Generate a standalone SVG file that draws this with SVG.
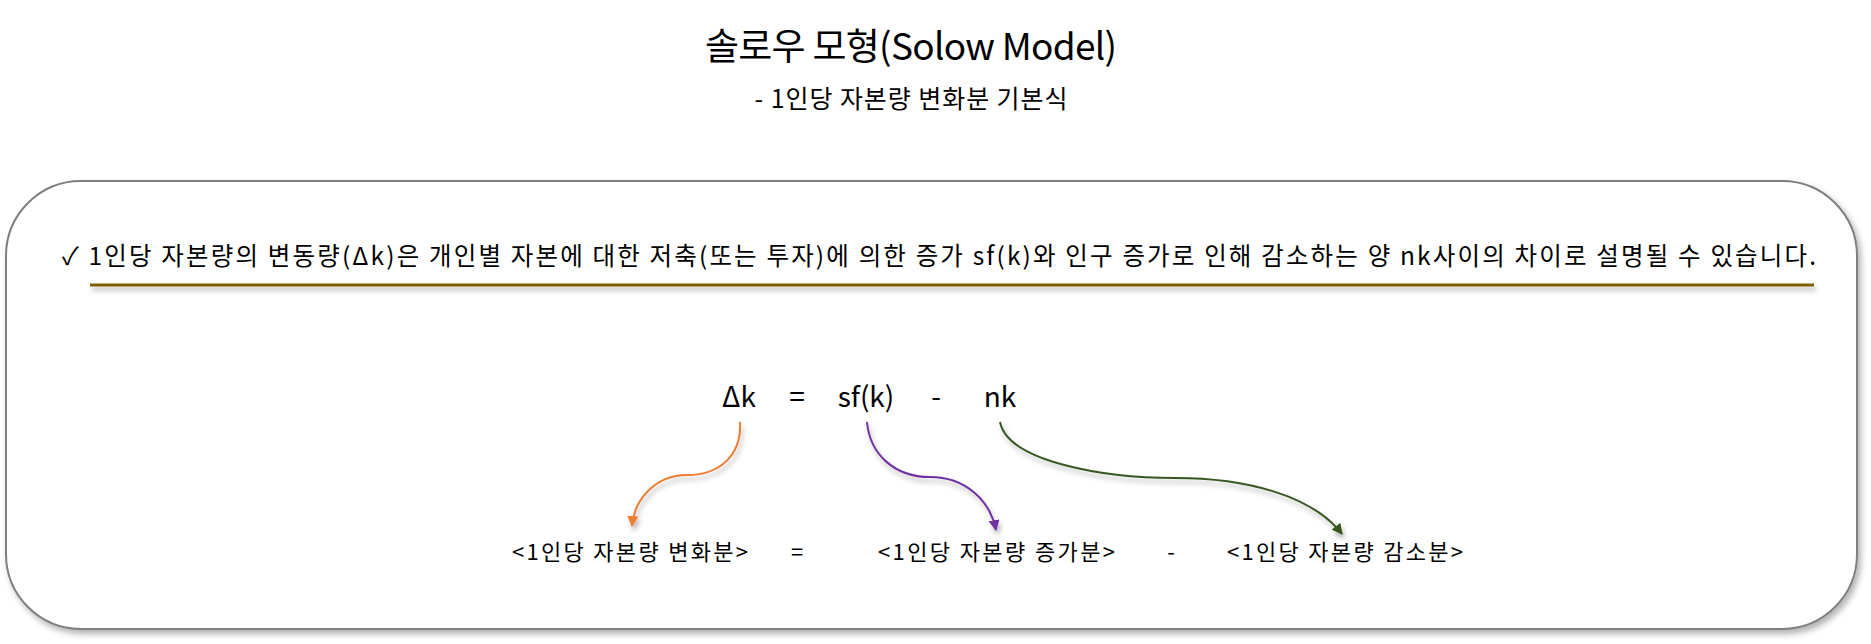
<svg xmlns="http://www.w3.org/2000/svg" width="1871" height="644" viewBox="0 0 1871 644">
<style>
text{font-family:"Malgun Gothic","Noto Sans CJK KR","Noto Sans",sans-serif;fill:#000}
.title{font-size:37px}
.sub{font-size:25px}
.body{font-size:24.5px}
.eq{font-size:28px}
.lbl{font-size:22px}
.conn{fill:none;stroke-width:2}
</style>
<defs>
<filter id="sh" x="-5%" y="-5%" width="110%" height="120%">
<feDropShadow dx="3" dy="4" stdDeviation="3" flood-color="#000" flood-opacity="0.3"/>
</filter>
<filter id="sh2" filterUnits="userSpaceOnUse" x="0" y="0" width="1871" height="644">
<feDropShadow dx="2" dy="4" stdDeviation="2.5" flood-color="#000" flood-opacity="0.3"/>
</filter>
<marker id="mo" viewBox="0 0 10 10" refX="9" refY="5" markerWidth="5.5" markerHeight="5.5" orient="auto" markerUnits="strokeWidth"><path d="M0,0L10,5L0,10z" fill="#ED7D31"/></marker>
<marker id="mp" viewBox="0 0 10 10" refX="9" refY="5" markerWidth="5.5" markerHeight="5.5" orient="auto" markerUnits="strokeWidth"><path d="M0,0L10,5L0,10z" fill="#7030A0"/></marker>
<marker id="mg" viewBox="0 0 10 10" refX="9" refY="5" markerWidth="5.5" markerHeight="5.5" orient="auto" markerUnits="strokeWidth"><path d="M0,0L10,5L0,10z" fill="#385723"/></marker>
</defs>
<rect width="1871" height="644" fill="#fff"/>
<g id="title">
<text class="title" x="911" y="60" text-anchor="middle" textLength="412" lengthAdjust="spacing">솔로우 모형(Solow Model)</text>
<text class="sub" x="911" y="108" text-anchor="middle" textLength="313" lengthAdjust="spacing">- 1인당 자본량 변화분 기본식</text>
</g>
<g id="panel">
<rect x="6" y="181" width="1851" height="448" rx="75" ry="75" fill="#fff" stroke="#7f7f7f" stroke-width="2" filter="url(#sh)"/>
</g>
<g id="statement">
<text class="body" x="62" y="265" textLength="1754" lengthAdjust="spacing">✓ 1인당 자본량의 변동량(Δk)은 개인별 자본에 대한 저축(또는 투자)에 의한 증가 sf(k)와 인구 증가로 인해 감소하는 양 nk사이의 차이로 설명될 수 있습니다.</text>
<rect x="90" y="283.5" width="1724" height="3" fill="#7F6000" filter="url(#sh2)"/>
</g>
<g id="equation">
<text class="eq" x="739" y="407" text-anchor="middle">Δk</text>
<text class="eq" x="797" y="407" text-anchor="middle">=</text>
<text class="eq" x="866" y="407" text-anchor="middle">sf(k)</text>
<text class="eq" x="936" y="407" text-anchor="middle">-</text>
<text class="eq" x="1000" y="407" text-anchor="middle">nk</text>
</g>
<g id="labels">
<text class="lbl" x="630" y="560" text-anchor="middle" textLength="236" lengthAdjust="spacing">&lt;1인당 자본량 변화분&gt;</text>
<text class="lbl" x="797" y="560" text-anchor="middle">=</text>
<text class="lbl" x="996.5" y="560" text-anchor="middle" textLength="237" lengthAdjust="spacing">&lt;1인당 자본량 증가분&gt;</text>
<text class="lbl" x="1171" y="560" text-anchor="middle">-</text>
<text class="lbl" x="1345" y="560" text-anchor="middle" textLength="236" lengthAdjust="spacing">&lt;1인당 자본량 감소분&gt;</text>
</g>
<g id="connectors">
<path class="conn" d="M740,422 C742,455 720,475 687,475 C655,475 634,500 632,526" stroke="#ED7D31" marker-end="url(#mo)" filter="url(#sh2)"/>
<path class="conn" d="M867,422 C870,455 895,477 930,477 C965,477 990,500 996,530" stroke="#7030A0" marker-end="url(#mp)" filter="url(#sh2)"/>
<path class="conn" d="M1000,422 C1008,462 1105,478 1175,478 C1245,478 1312,495 1342,534" stroke="#385723" marker-end="url(#mg)" filter="url(#sh2)"/>
</g>
</svg>
